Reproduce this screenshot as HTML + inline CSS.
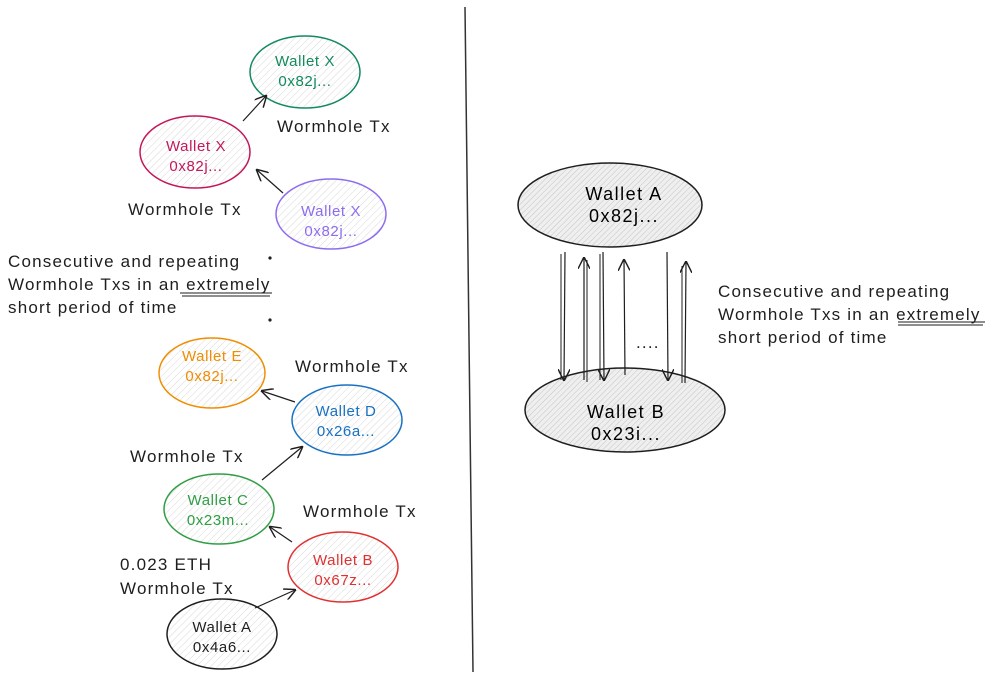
<!DOCTYPE html>
<html><head><meta charset="utf-8"><style>
html,body{margin:0;padding:0;background:#fff;}
svg{display:block}
text{font-family:"Liberation Sans",sans-serif;}
</style></head><body>
<svg width="1000" height="681" viewBox="0 0 1000 681" xmlns="http://www.w3.org/2000/svg">
<defs>
<pattern id="h" width="5" height="5" patternUnits="userSpaceOnUse" patternTransform="rotate(45)">
<line x1="0" y1="0" x2="0" y2="5" stroke="#d8d8d8" stroke-width="1"/></pattern>
<pattern id="hd" width="4" height="4" patternUnits="userSpaceOnUse" patternTransform="rotate(45)">
<rect width="4" height="4" fill="#efefef"/>
<line x1="0" y1="0" x2="0" y2="4" stroke="#c4c4c4" stroke-width="1"/></pattern>
<marker id="a" viewBox="0 0 10 10" refX="9" refY="5" markerWidth="12" markerHeight="12" markerUnits="userSpaceOnUse" orient="auto">
<path d="M0,0 L10,5 L0,10" fill="none" stroke="#1e1e1e" stroke-width="1.2"/></marker>
</defs>
<line x1="465" y1="7" x2="473" y2="672" stroke="#333" stroke-width="1.5"/>

<g stroke-width="1.5">
<ellipse cx="305" cy="72" rx="55" ry="36" fill="url(#h)" stroke="#138a5e"/>
<ellipse cx="195" cy="152" rx="55" ry="36" fill="url(#h)" stroke="#c2185b"/>
<ellipse cx="331" cy="214" rx="55" ry="35" fill="url(#h)" stroke="#8e6cf0"/>
<ellipse cx="212" cy="373" rx="53" ry="35" fill="url(#h)" stroke="#f08c00"/>
<ellipse cx="347" cy="420" rx="55" ry="35" fill="url(#h)" stroke="#1971c2"/>
<ellipse cx="219" cy="509" rx="55" ry="35" fill="url(#h)" stroke="#2f9e44"/>
<ellipse cx="343" cy="567" rx="55" ry="35" fill="url(#h)" stroke="#e03131"/>
<ellipse cx="222" cy="634" rx="55" ry="35" fill="url(#h)" stroke="#1e1e1e"/>
<ellipse cx="610" cy="205" rx="92" ry="42" fill="url(#hd)" stroke="#1e1e1e"/>
<ellipse cx="625" cy="410" rx="100" ry="42" fill="url(#hd)" stroke="#1e1e1e"/>
</g>

<g text-anchor="middle" letter-spacing="0.6" font-size="15">
<text x="305" y="66" fill="#138a5e">Wallet X</text><text x="305" y="86" fill="#138a5e">0x82j...</text>
<text x="196" y="151" fill="#c2185b">Wallet X</text><text x="196" y="171" fill="#c2185b">0x82j...</text>
<text x="331" y="216" fill="#8e6cf0">Wallet X</text><text x="331" y="236" fill="#8e6cf0">0x82j...</text>
<text x="212" y="361" fill="#f08c00">Wallet E</text><text x="212" y="381" fill="#f08c00">0x82j...</text>
<text x="346" y="416" fill="#1971c2">Wallet D</text><text x="346" y="436" fill="#1971c2">0x26a...</text>
<text x="218" y="505" fill="#2f9e44">Wallet C</text><text x="218" y="525" fill="#2f9e44">0x23m...</text>
<text x="343" y="565" fill="#e03131">Wallet B</text><text x="343" y="585" fill="#e03131">0x67z...</text>
<text x="222" y="632" fill="#1e1e1e">Wallet A</text><text x="222" y="652" fill="#1e1e1e">0x4a6...</text>
<text x="624" y="200" font-size="18" letter-spacing="1.5">Wallet A</text><text x="624" y="222" font-size="18" letter-spacing="1.5">0x82j...</text>
<text x="626" y="418" font-size="18" letter-spacing="1.5">Wallet B</text><text x="626" y="440" font-size="18" letter-spacing="1.5">0x23i...</text>
</g>

<g fill="#1e1e1e" font-size="17" letter-spacing="1.2">
<text x="277" y="132">Wormhole Tx</text>
<text x="128" y="215">Wormhole Tx</text>
<text x="295" y="372">Wormhole Tx</text>
<text x="130" y="462">Wormhole Tx</text>
<text x="303" y="517">Wormhole Tx</text>
<text x="120" y="570">0.023 ETH</text>
<text x="120" y="594">Wormhole Tx</text>
<text x="8" y="267">Consecutive and repeating</text>
<text x="8" y="290">Wormhole Txs in an extremely</text>
<text x="8" y="313">short period of time</text>
<text x="718" y="297">Consecutive and repeating</text>
<text x="718" y="320">Wormhole Txs in an extremely</text>
<text x="718" y="343">short period of time</text>
<text x="636" y="348">....</text>
</g>
<g stroke="#1e1e1e" stroke-width="1" fill="none">
<path d="M180 293 L272 293 M182 296 L270 296"/>
<path d="M898 322 L985 322 M898 325 L983 325"/>
</g>
<circle cx="270" cy="258" r="1.6" fill="#1e1e1e"/>
<circle cx="270" cy="320" r="1.6" fill="#1e1e1e"/>

<g stroke="#1e1e1e" stroke-width="1.2" fill="none" marker-end="url(#a)">
<path d="M243 121 L266 96"/>
<path d="M283 193 L257 170"/>
<path d="M295 402 L262 391"/>
<path d="M262 480 L302 447"/>
<path d="M292 542 L270 527"/>
<path d="M255 608 L295 590"/>
<path d="M565 252 L564 380"/>
<path d="M584 380 L584 258"/>
<path d="M603 252 L604 380"/>
<path d="M625 375 L624 260"/>
<path d="M667 252 L668 380"/>
<path d="M685 383 L686 262"/>
</g>
<g stroke="#1e1e1e" stroke-width="1" fill="none">
<path d="M561 254 L561 380"/><path d="M587 382 L587 260"/><path d="M600 254 L600 380"/><path d="M682 383 L682 266"/>
</g>
</svg>
</body></html>
